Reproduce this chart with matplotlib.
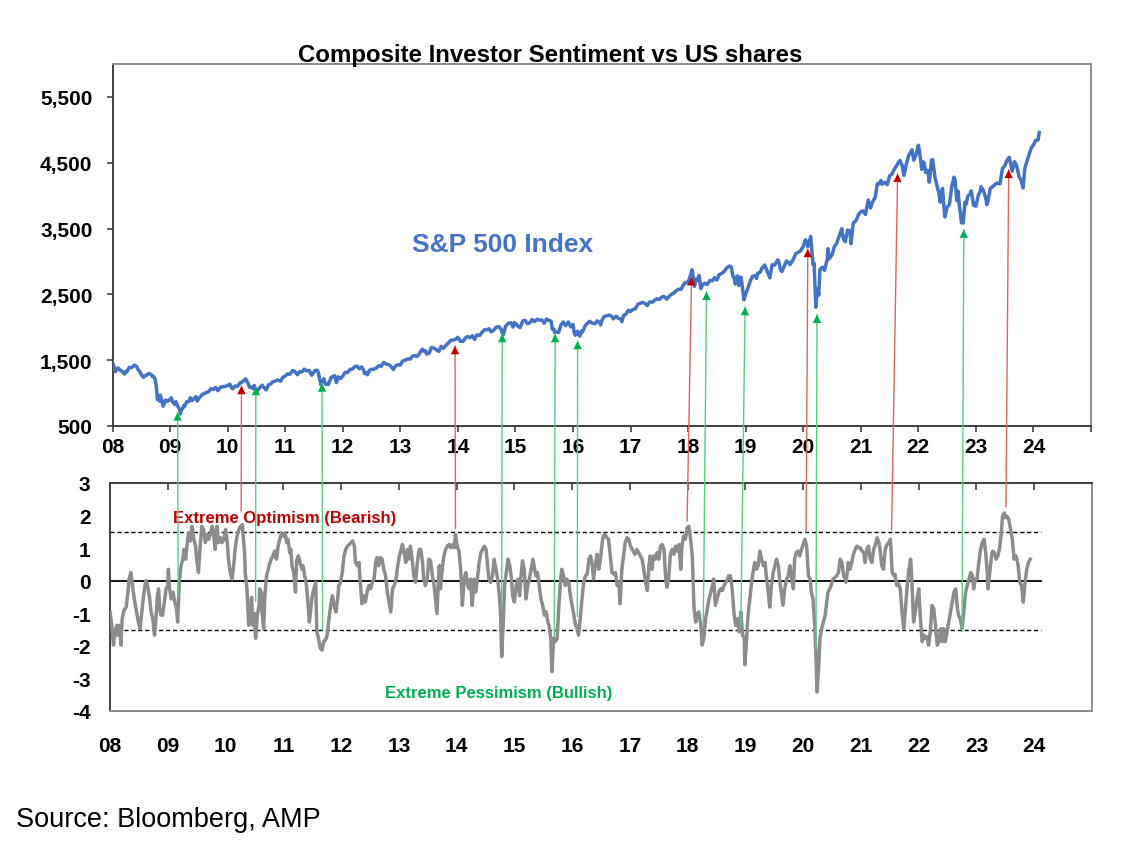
import matplotlib
matplotlib.use("Agg")
import matplotlib.pyplot as plt
from matplotlib import font_manager
from matplotlib.patches import ConnectionPatch, ArrowStyle

plt.rcParams['font.family'] = ['Liberation Sans', 'DejaVu Sans']
plt.rcParams['axes.unicode_minus'] = False

# ---- data ----
# S&P 500 (weekly-ish closes, decimal year, index level)
spx_pts = [
    (2008.00, 1468), (2008.02, 1411), (2008.05, 1325), (2008.08, 1378), (2008.10, 1380),
    (2008.13, 1349), (2008.17, 1330), (2008.21, 1288), (2008.23, 1330), (2008.25, 1323),
    (2008.29, 1390), (2008.33, 1386), (2008.38, 1426), (2008.42, 1400), (2008.44, 1360),
    (2008.48, 1318), (2008.50, 1280), (2008.54, 1239), (2008.56, 1260), (2008.58, 1267),
    (2008.63, 1298), (2008.67, 1283), (2008.69, 1252), (2008.71, 1255), (2008.74, 1213),
    (2008.76, 1099), (2008.78, 899), (2008.80, 940), (2008.82, 877), (2008.83, 969),
    (2008.86, 873), (2008.88, 800), (2008.92, 896), (2008.94, 876), (2008.96, 880),
    (2009.00, 903), (2009.02, 930), (2009.04, 870), (2009.06, 850), (2009.08, 826),
    (2009.10, 869), (2009.12, 827), (2009.15, 770), (2009.17, 735), (2009.18, 683),
    (2009.20, 756), (2009.22, 768), (2009.24, 816), (2009.25, 798), (2009.29, 870),
    (2009.33, 873), (2009.35, 930), (2009.38, 887), (2009.42, 919), (2009.45, 946),
    (2009.47, 879), (2009.50, 919), (2009.56, 979), (2009.58, 987), (2009.62, 1005),
    (2009.67, 1021), (2009.71, 1068), (2009.75, 1057), (2009.79, 1087), (2009.83, 1036),
    (2009.88, 1093), (2009.92, 1096), (2009.96, 1102), (2010.00, 1115), (2010.04, 1136),
    (2010.06, 1092), (2010.09, 1066), (2010.13, 1109), (2010.17, 1104), (2010.21, 1150),
    (2010.25, 1169), (2010.29, 1192), (2010.31, 1217), (2010.33, 1187), (2010.36, 1135),
    (2010.38, 1088), (2010.42, 1089), (2010.44, 1065), (2010.46, 1117), (2010.50, 1031),
    (2010.51, 1022), (2010.54, 1064), (2010.58, 1102), (2010.60, 1121), (2010.65, 1064),
    (2010.67, 1049), (2010.71, 1125), (2010.75, 1141), (2010.79, 1176), (2010.83, 1183),
    (2010.87, 1199), (2010.90, 1189), (2010.92, 1181), (2010.96, 1243), (2011.00, 1258),
    (2011.04, 1293), (2011.08, 1286), (2011.13, 1343), (2011.17, 1327), (2011.19, 1304),
    (2011.21, 1279), (2011.25, 1326), (2011.29, 1319), (2011.33, 1364), (2011.37, 1338),
    (2011.42, 1345), (2011.44, 1300), (2011.46, 1271), (2011.50, 1321), (2011.52, 1344),
    (2011.56, 1345), (2011.58, 1292), (2011.60, 1199), (2011.61, 1179), (2011.62, 1124),
    (2011.67, 1219), (2011.70, 1136), (2011.75, 1131), (2011.76, 1155), (2011.80, 1238),
    (2011.83, 1253), (2011.86, 1263), (2011.89, 1159), (2011.92, 1247), (2011.96, 1220),
    (2012.00, 1258), (2012.04, 1315), (2012.08, 1312), (2012.13, 1361), (2012.17, 1366),
    (2012.21, 1404), (2012.25, 1408), (2012.29, 1370), (2012.33, 1398), (2012.36, 1353),
    (2012.38, 1295), (2012.42, 1310), (2012.43, 1278), (2012.46, 1342), (2012.50, 1362),
    (2012.54, 1362), (2012.58, 1379), (2012.63, 1418), (2012.67, 1407), (2012.71, 1466),
    (2012.75, 1441), (2012.79, 1433), (2012.83, 1412), (2012.88, 1360), (2012.92, 1416),
    (2012.96, 1430), (2013.00, 1426), (2013.04, 1486), (2013.08, 1498), (2013.13, 1519),
    (2013.17, 1515), (2013.21, 1560), (2013.25, 1569), (2013.29, 1555), (2013.33, 1598),
    (2013.38, 1667), (2013.42, 1631), (2013.44, 1643), (2013.46, 1593), (2013.50, 1606),
    (2013.54, 1692), (2013.58, 1686), (2013.63, 1655), (2013.67, 1633), (2013.71, 1710),
    (2013.75, 1682), (2013.77, 1703), (2013.83, 1757), (2013.88, 1804), (2013.92, 1806),
    (2013.96, 1818), (2014.00, 1848), (2014.04, 1790), (2014.08, 1783), (2014.10, 1797),
    (2014.13, 1838), (2014.17, 1859), (2014.21, 1841), (2014.25, 1872), (2014.29, 1815),
    (2014.33, 1884), (2014.38, 1877), (2014.42, 1924), (2014.46, 1962), (2014.50, 1960),
    (2014.54, 1978), (2014.58, 1931), (2014.62, 1955), (2014.67, 2003), (2014.71, 2011),
    (2014.75, 1972), (2014.77, 1906), (2014.79, 1887), (2014.83, 2018), (2014.88, 2063),
    (2014.92, 2068), (2014.96, 2003), (2014.98, 2071), (2015.00, 2059), (2015.04, 2019),
    (2015.08, 1995), (2015.13, 2097), (2015.17, 2105), (2015.21, 2053), (2015.25, 2068),
    (2015.29, 2117), (2015.33, 2086), (2015.38, 2123), (2015.42, 2107), (2015.46, 2110),
    (2015.50, 2063), (2015.54, 2127), (2015.58, 2104), (2015.62, 2092), (2015.64, 1971),
    (2015.67, 1972), (2015.68, 1921), (2015.70, 1931), (2015.75, 1920), (2015.79, 2033),
    (2015.83, 2079), (2015.87, 2023), (2015.92, 2080), (2015.96, 2005), (2016.00, 2044),
    (2016.02, 1922), (2016.04, 1880), (2016.08, 1940), (2016.10, 1880), (2016.12, 1865),
    (2016.15, 1948), (2016.17, 1932), (2016.21, 2022), (2016.25, 2060), (2016.29, 2091),
    (2016.33, 2065), (2016.38, 2052), (2016.42, 2097), (2016.46, 2071), (2016.48, 2037),
    (2016.50, 2099), (2016.54, 2162), (2016.58, 2174), (2016.63, 2184), (2016.67, 2171),
    (2016.70, 2128), (2016.75, 2168), (2016.79, 2133), (2016.83, 2126), (2016.85, 2085),
    (2016.88, 2181), (2016.92, 2199), (2016.96, 2258), (2017.00, 2239), (2017.04, 2271),
    (2017.08, 2279), (2017.13, 2351), (2017.17, 2364), (2017.21, 2378), (2017.25, 2363),
    (2017.29, 2329), (2017.33, 2384), (2017.38, 2381), (2017.42, 2412), (2017.46, 2433),
    (2017.50, 2423), (2017.54, 2459), (2017.58, 2470), (2017.63, 2426), (2017.67, 2472),
    (2017.71, 2500), (2017.75, 2519), (2017.79, 2553), (2017.83, 2575), (2017.88, 2579),
    (2017.92, 2648), (2017.96, 2683), (2018.00, 2674), (2018.04, 2786), (2018.07, 2873),
    (2018.08, 2824), (2018.11, 2620), (2018.14, 2732), (2018.17, 2714), (2018.19, 2786),
    (2018.22, 2588), (2018.25, 2641), (2018.29, 2670), (2018.33, 2648), (2018.38, 2713),
    (2018.42, 2705), (2018.46, 2754), (2018.50, 2718), (2018.54, 2801), (2018.58, 2816),
    (2018.63, 2850), (2018.67, 2902), (2018.72, 2930), (2018.75, 2914), (2018.78, 2768),
    (2018.80, 2767), (2018.82, 2658), (2018.83, 2712), (2018.86, 2781), (2018.88, 2633),
    (2018.92, 2760), (2018.94, 2633), (2018.97, 2417), (2019.00, 2507), (2019.04, 2596),
    (2019.08, 2704), (2019.12, 2775), (2019.17, 2784), (2019.19, 2743), (2019.21, 2822),
    (2019.25, 2834), (2019.29, 2907), (2019.33, 2946), (2019.37, 2860), (2019.42, 2752),
    (2019.46, 2950), (2019.50, 2942), (2019.56, 3025), (2019.58, 2980), (2019.60, 2882),
    (2019.63, 2847), (2019.67, 2926), (2019.71, 3007), (2019.75, 2977), (2019.77, 2952),
    (2019.83, 3038), (2019.87, 3120), (2019.92, 3141), (2019.96, 3168), (2020.00, 3231),
    (2020.04, 3330), (2020.08, 3226), (2020.13, 3380), (2020.17, 2954), (2020.19, 2972),
    (2020.20, 2711), (2020.22, 2305), (2020.24, 2541), (2020.25, 2585), (2020.27, 2489),
    (2020.29, 2875), (2020.33, 2912), (2020.37, 2864), (2020.42, 3044), (2020.43, 3194),
    (2020.45, 3041), (2020.50, 3100), (2020.54, 3225), (2020.58, 3271), (2020.62, 3373),
    (2020.67, 3500), (2020.68, 3427), (2020.70, 3341), (2020.73, 3298), (2020.77, 3477),
    (2020.81, 3465), (2020.83, 3270), (2020.87, 3585), (2020.92, 3622), (2020.96, 3709),
    (2021.00, 3756), (2021.04, 3768), (2021.08, 3714), (2021.13, 3934), (2021.17, 3811),
    (2021.18, 3842), (2021.21, 3913), (2021.25, 3973), (2021.29, 4185), (2021.33, 4181),
    (2021.35, 4232), (2021.37, 4173), (2021.42, 4204), (2021.46, 4166), (2021.50, 4298),
    (2021.54, 4327), (2021.58, 4395), (2021.63, 4468), (2021.67, 4523), (2021.68, 4535),
    (2021.72, 4455), (2021.75, 4308), (2021.79, 4471), (2021.83, 4605), (2021.89, 4698),
    (2021.92, 4538), (2021.96, 4620), (2022.00, 4766), (2022.02, 4677), (2022.06, 4398),
    (2022.08, 4516), (2022.10, 4500), (2022.13, 4349), (2022.15, 4385), (2022.17, 4374),
    (2022.19, 4204), (2022.23, 4543), (2022.25, 4545), (2022.29, 4271), (2022.33, 4132),
    (2022.36, 4024), (2022.38, 3901), (2022.42, 4109), (2022.44, 3901), (2022.46, 3675),
    (2022.50, 3825), (2022.54, 3863), (2022.58, 4130), (2022.62, 4280), (2022.64, 4228),
    (2022.67, 3924), (2022.69, 4067), (2022.71, 3873), (2022.75, 3586), (2022.77, 3640),
    (2022.78, 3583), (2022.81, 3901), (2022.83, 3872), (2022.86, 3993), (2022.90, 4026),
    (2022.92, 4072), (2022.96, 3852), (2023.00, 3840), (2023.04, 3999), (2023.08, 4077),
    (2023.09, 4136), (2023.13, 4079), (2023.17, 3970), (2023.19, 3862), (2023.21, 3917),
    (2023.25, 4109), (2023.29, 4134), (2023.33, 4169), (2023.37, 4192), (2023.42, 4180),
    (2023.46, 4410), (2023.50, 4450), (2023.54, 4536), (2023.58, 4582), (2023.63, 4370),
    (2023.67, 4516), (2023.71, 4450), (2023.75, 4288), (2023.79, 4224), (2023.82, 4117),
    (2023.85, 4415), (2023.90, 4559), (2023.96, 4719), (2024.00, 4770), (2024.04, 4840),
    (2024.08, 4846), (2024.10, 4958),
]

# composite sentiment (decimal year, z-score)
sent_pts = [
    (2008.00, -0.96), (2008.03, -1.37), (2008.06, -1.98), (2008.09, -1.52), (2008.12, -1.37),
    (2008.13, -1.67), (2008.16, -1.37), (2008.19, -1.98), (2008.21, -1.17), (2008.24, -0.91),
    (2008.28, -0.81), (2008.31, -0.35), (2008.33, 0.05), (2008.36, 0.25), (2008.39, -0.15),
    (2008.42, -0.56), (2008.46, -0.96), (2008.49, -1.27), (2008.52, -1.47), (2008.55, -0.96),
    (2008.58, -0.46), (2008.62, 0.00), (2008.65, -0.15), (2008.68, -0.46), (2008.71, -0.96),
    (2008.74, -1.17), (2008.77, -1.67), (2008.79, -1.27), (2008.82, -0.46), (2008.84, -0.25),
    (2008.86, -0.86), (2008.88, -1.06), (2008.91, -1.06), (2008.94, -0.66), (2008.97, -0.25),
    (2009.00, -0.15), (2009.01, 0.35), (2009.03, -0.25), (2009.06, -0.56), (2009.09, -0.35),
    (2009.12, -0.66), (2009.15, -0.86), (2009.17, -1.27), (2009.19, -0.46), (2009.20, 0.00),
    (2009.23, 0.46), (2009.26, 0.66), (2009.28, 0.96), (2009.31, 0.66), (2009.33, 1.06),
    (2009.36, 1.47), (2009.39, 1.22), (2009.42, 1.67), (2009.45, 1.27), (2009.48, 1.06),
    (2009.50, 0.66), (2009.53, 0.25), (2009.56, 1.06), (2009.59, 1.67), (2009.62, 1.57),
    (2009.65, 1.17), (2009.68, 1.42), (2009.71, 1.27), (2009.74, 1.47), (2009.77, 1.67),
    (2009.79, 1.47), (2009.82, 0.96), (2009.85, 1.67), (2009.88, 1.17), (2009.91, 1.32),
    (2009.94, 1.17), (2009.97, 1.27), (2010.00, 1.57), (2010.03, 1.17), (2010.05, 0.66),
    (2010.08, 0.25), (2010.11, 0.05), (2010.14, 0.46), (2010.17, 1.06), (2010.20, 1.37),
    (2010.23, 1.57), (2010.26, 1.67), (2010.29, 1.72), (2010.30, 1.47), (2010.33, 0.86),
    (2010.34, 0.25), (2010.37, -0.25), (2010.40, -1.37), (2010.43, -1.17), (2010.45, -0.51),
    (2010.47, -1.37), (2010.50, -1.01), (2010.52, -1.77), (2010.55, -1.06), (2010.58, -0.76),
    (2010.59, -0.25), (2010.62, -0.35), (2010.63, -0.96), (2010.66, -1.47), (2010.68, -0.46),
    (2010.71, 0.15), (2010.74, 0.35), (2010.76, 0.51), (2010.79, 0.66), (2010.82, 0.76),
    (2010.85, 0.91), (2010.88, 0.66), (2010.91, 1.06), (2010.93, 1.22), (2010.97, 1.47),
    (2011.00, 1.37), (2011.03, 1.47), (2011.06, 1.17), (2011.08, 1.27), (2011.11, 0.86),
    (2011.13, 0.96), (2011.15, 0.46), (2011.18, 0.25), (2011.21, -0.35), (2011.23, 0.61),
    (2011.26, 0.76), (2011.29, 0.56), (2011.32, 0.35), (2011.34, 0.46), (2011.37, 0.15),
    (2011.40, -0.15), (2011.43, -0.76), (2011.45, -1.27), (2011.47, -0.96), (2011.50, -0.46),
    (2011.53, -0.25), (2011.56, -0.05), (2011.58, -1.57), (2011.61, -1.77), (2011.64, -2.08),
    (2011.67, -2.13), (2011.70, -1.87), (2011.73, -1.82), (2011.76, -1.67), (2011.79, -1.17),
    (2011.82, -0.76), (2011.85, -0.46), (2011.88, -0.76), (2011.91, -0.96), (2011.94, -0.56),
    (2011.96, -0.15), (2011.99, -0.05), (2012.02, 0.25), (2012.05, 0.76), (2012.08, 0.96),
    (2012.11, 1.06), (2012.14, 1.11), (2012.20, 1.22), (2012.23, 1.06), (2012.25, 0.56),
    (2012.28, 0.46), (2012.31, 0.56), (2012.34, -0.25), (2012.36, -0.71), (2012.39, -0.46),
    (2012.42, -0.66), (2012.45, -0.35), (2012.48, -0.15), (2012.51, -0.25), (2012.54, -0.05),
    (2012.57, 0.05), (2012.60, 0.56), (2012.62, 0.71), (2012.65, 0.46), (2012.68, 0.71),
    (2012.71, 0.66), (2012.74, 0.35), (2012.77, 0.15), (2012.80, -0.35), (2012.83, -0.66),
    (2012.86, -0.96), (2012.89, -0.25), (2012.92, -0.15), (2012.95, 0.05), (2012.98, 0.46),
    (2013.01, 0.76), (2013.04, 0.96), (2013.06, 1.11), (2013.09, 0.86), (2013.12, 0.56),
    (2013.15, 0.96), (2013.17, 0.66), (2013.20, 1.06), (2013.23, 0.66), (2013.26, 0.15),
    (2013.29, -0.05), (2013.32, 0.56), (2013.35, 0.96), (2013.38, 0.96), (2013.41, 0.56),
    (2013.43, 0.05), (2013.46, -0.15), (2013.49, 0.05), (2013.52, 0.66), (2013.55, 0.61),
    (2013.58, 0.15), (2013.61, -0.15), (2013.64, -0.66), (2013.66, -1.01), (2013.68, -0.15),
    (2013.70, 0.46), (2013.72, -0.25), (2013.75, 0.35), (2013.78, 0.76), (2013.81, 0.96),
    (2013.84, 1.06), (2013.87, 1.11), (2013.90, 1.01), (2013.93, 1.11), (2013.96, 1.01),
    (2013.98, 1.42), (2014.01, 1.06), (2014.04, 0.91), (2014.07, 0.35), (2014.10, -0.76),
    (2014.13, 0.05), (2014.16, 0.25), (2014.19, -0.15), (2014.22, -0.25), (2014.24, 0.05),
    (2014.27, -0.76), (2014.30, 0.05), (2014.33, -0.35), (2014.36, 0.05), (2014.39, 0.56),
    (2014.42, 0.86), (2014.45, 0.96), (2014.48, 1.06), (2014.51, 0.96), (2014.53, 0.56),
    (2014.56, 0.05), (2014.59, -0.05), (2014.62, 0.15), (2014.65, 0.66), (2014.68, 0.35),
    (2014.71, 0.05), (2014.74, -0.46), (2014.76, -0.96), (2014.78, -2.33), (2014.81, -1.17),
    (2014.83, -0.15), (2014.86, 0.25), (2014.89, 0.66), (2014.92, 0.46), (2014.95, 0.05),
    (2014.97, -0.46), (2015.00, -0.66), (2015.03, -0.15), (2015.06, 0.05), (2015.09, -0.46),
    (2015.11, 0.05), (2015.14, 0.61), (2015.17, 0.35), (2015.20, -0.56), (2015.23, -0.15),
    (2015.26, 0.05), (2015.29, 0.35), (2015.32, 0.66), (2015.34, 0.46), (2015.37, 0.15),
    (2015.40, 0.25), (2015.43, -0.15), (2015.46, -0.56), (2015.49, -0.76), (2015.52, -1.06),
    (2015.55, -0.96), (2015.58, -1.27), (2015.60, -1.37), (2015.63, -1.77), (2015.65, -2.79),
    (2015.68, -1.77), (2015.71, -1.87), (2015.74, -1.77), (2015.77, -0.76), (2015.80, 0.05),
    (2015.82, 0.35), (2015.85, 0.15), (2015.88, -0.15), (2015.91, 0.05), (2015.94, -0.05),
    (2015.97, -0.46), (2016.00, -0.76), (2016.03, -1.06), (2016.06, -1.37), (2016.09, -1.47),
    (2016.11, -1.67), (2016.14, -1.17), (2016.17, -0.56), (2016.20, -0.05), (2016.23, 0.15),
    (2016.26, 0.20), (2016.29, 0.66), (2016.32, 0.76), (2016.35, 0.46), (2016.37, 0.05),
    (2016.40, 0.46), (2016.43, 0.81), (2016.46, 0.35), (2016.49, 0.66), (2016.52, 1.17),
    (2016.54, 1.37), (2016.57, 1.42), (2016.60, 1.32), (2016.63, 1.27), (2016.66, 0.76),
    (2016.69, 0.25), (2016.72, 0.20), (2016.75, 0.25), (2016.78, -0.15), (2016.81, -0.05),
    (2016.83, -0.71), (2016.86, 0.35), (2016.89, 0.76), (2016.92, 1.17), (2016.95, 1.32),
    (2016.98, 1.27), (2017.01, 1.06), (2017.04, 0.96), (2017.07, 0.86), (2017.09, 0.81),
    (2017.12, 0.96), (2017.15, 0.86), (2017.18, 0.76), (2017.21, 0.66), (2017.24, 0.35),
    (2017.27, -0.05), (2017.30, -0.30), (2017.33, 0.46), (2017.35, 0.76), (2017.38, 0.35),
    (2017.41, 0.76), (2017.44, 0.66), (2017.47, 0.86), (2017.50, 0.66), (2017.53, 1.06),
    (2017.56, 1.11), (2017.59, 0.96), (2017.62, 0.05), (2017.64, -0.20), (2017.67, 0.05),
    (2017.70, 0.81), (2017.73, 0.96), (2017.76, 0.81), (2017.79, 1.06), (2017.82, 0.91),
    (2017.85, 1.11), (2017.88, 0.35), (2017.90, 1.06), (2017.93, 1.37), (2017.96, 1.27),
    (2017.99, 1.62), (2018.02, 1.67), (2018.05, 1.27), (2018.08, 0.76), (2018.11, -0.86),
    (2018.14, -1.27), (2018.16, -1.06), (2018.19, -0.96), (2018.23, -1.37), (2018.25, -1.98),
    (2018.28, -1.77), (2018.31, -1.17), (2018.34, -0.86), (2018.37, -0.56), (2018.40, -0.35),
    (2018.43, -0.15), (2018.45, 0.05), (2018.48, -0.76), (2018.51, -0.56), (2018.54, -0.35),
    (2018.57, -0.25), (2018.60, -0.30), (2018.63, -0.15), (2018.66, -0.05), (2018.69, 0.05),
    (2018.71, 0.15), (2018.74, 0.15), (2018.77, -0.25), (2018.80, -0.96), (2018.83, -1.37),
    (2018.86, -1.17), (2018.89, -1.57), (2018.92, -0.96), (2018.95, -1.67), (2018.98, -1.77),
    (2018.99, -2.58), (2019.02, -1.77), (2019.04, -1.17), (2019.07, -0.66), (2019.10, -0.15),
    (2019.13, 0.25), (2019.16, 0.56), (2019.19, 0.35), (2019.22, 0.46), (2019.25, 0.91),
    (2019.28, 0.66), (2019.31, 0.46), (2019.34, 0.56), (2019.36, 0.15), (2019.39, -0.25),
    (2019.42, -0.81), (2019.45, -0.15), (2019.48, 0.25), (2019.51, 0.46), (2019.54, 0.66),
    (2019.57, 0.46), (2019.59, 0.05), (2019.62, -0.35), (2019.65, -0.76), (2019.68, -0.25),
    (2019.71, 0.05), (2019.74, 0.15), (2019.77, 0.46), (2019.80, 0.05), (2019.83, -0.25),
    (2019.85, 0.66), (2019.88, 0.86), (2019.91, 0.91), (2019.94, 0.76), (2019.97, 0.96),
    (2020.00, 1.11), (2020.03, 1.27), (2020.06, 1.06), (2020.09, 0.15), (2020.12, 0.05),
    (2020.14, -0.35), (2020.17, -0.56), (2020.20, -1.37), (2020.22, -2.28), (2020.24, -3.42),
    (2020.27, -2.58), (2020.29, -1.77), (2020.32, -1.47), (2020.35, -1.27), (2020.38, -1.06),
    (2020.40, -0.76), (2020.43, -0.35), (2020.46, -0.25), (2020.49, -0.10), (2020.52, 0.05),
    (2020.55, 0.10), (2020.58, 0.15), (2020.61, 0.25), (2020.64, 0.66), (2020.67, 0.56),
    (2020.70, 0.15), (2020.73, 0.05), (2020.74, -0.05), (2020.77, 0.35), (2020.78, 0.56),
    (2020.81, 0.35), (2020.84, 0.56), (2020.87, 0.81), (2020.90, 0.96), (2020.93, 1.06),
    (2020.96, 1.01), (2020.99, 1.01), (2021.02, 0.91), (2021.05, 0.86), (2021.07, 0.56),
    (2021.10, 0.96), (2021.13, 1.06), (2021.16, 0.66), (2021.19, 0.56), (2021.22, 0.96),
    (2021.25, 1.11), (2021.28, 1.32), (2021.31, 1.17), (2021.33, 0.96), (2021.36, 0.46),
    (2021.39, 0.35), (2021.42, 0.96), (2021.45, 1.11), (2021.48, 1.17), (2021.51, 1.27),
    (2021.54, 0.25), (2021.57, 0.15), (2021.59, 0.20), (2021.62, -0.15), (2021.65, -0.10),
    (2021.68, -0.25), (2021.71, -0.96), (2021.74, -1.47), (2021.77, -0.86), (2021.80, -0.15),
    (2021.83, 0.35), (2021.86, 0.66), (2021.88, 0.05), (2021.91, -1.27), (2021.94, -0.96),
    (2021.97, -0.56), (2022.00, -0.25), (2022.03, -1.17), (2022.06, -1.87), (2022.09, -1.67),
    (2022.12, -1.77), (2022.14, -1.72), (2022.17, -1.98), (2022.20, -1.57), (2022.23, -0.76),
    (2022.26, -0.86), (2022.29, -1.37), (2022.32, -1.98), (2022.35, -1.87), (2022.38, -1.47),
    (2022.41, -1.87), (2022.43, -1.47), (2022.46, -1.87), (2022.49, -1.57), (2022.52, -1.27),
    (2022.55, -0.96), (2022.58, -0.66), (2022.61, -0.35), (2022.64, -0.25), (2022.67, -0.86),
    (2022.69, -1.06), (2022.72, -1.17), (2022.75, -1.47), (2022.78, -0.96), (2022.81, -0.35),
    (2022.84, -0.15), (2022.87, 0.05), (2022.90, 0.25), (2022.93, 0.15), (2022.95, -0.25),
    (2022.98, 0.05), (2023.01, 0.05), (2023.04, 0.56), (2023.07, 0.96), (2023.10, 1.17),
    (2023.13, 1.27), (2023.16, 0.86), (2023.19, 0.15), (2023.20, -0.25), (2023.23, 0.25),
    (2023.26, 0.76), (2023.28, 0.91), (2023.31, 0.86), (2023.34, 0.66), (2023.37, 0.76),
    (2023.40, 1.01), (2023.43, 1.47), (2023.45, 1.98), (2023.48, 2.08), (2023.50, 1.93),
    (2023.53, 1.98), (2023.56, 1.87), (2023.59, 1.57), (2023.62, 1.27), (2023.65, 0.66),
    (2023.68, 0.76), (2023.70, 0.66), (2023.72, 0.46), (2023.75, -0.05), (2023.78, -0.15),
    (2023.81, -0.66), (2023.84, -0.05), (2023.87, 0.35), (2023.90, 0.56), (2023.93, 0.66),
]

# signal arrows: (date in sentiment panel, sentiment, date in S&P panel, S&P level)
optimism_arrows = [
    (2010.27, 2.14, 2010.24, 1110),
    (2013.98, 1.60, 2013.95, 1717),
    (2017.99, 1.83, 2018.06, 2762),
    (2020.05, 1.47, 2020.08, 3192),
    (2021.53, 1.54, 2021.64, 4333),
    (2023.51, 2.26, 2023.57, 4394),
]
pessimism_arrows = [
    (2009.18, -0.48, 2009.13, 708),
    (2010.52, -0.64, 2010.49, 1095),
    (2011.68, -1.51, 2011.64, 1147),
    (2014.78, -0.90, 2014.77, 1899),
    (2015.69, -1.72, 2015.69, 1899),
    (2016.09, -1.10, 2016.08, 1793),
    (2018.27, -1.41, 2018.32, 2541),
    (2018.92, -1.41, 2018.99, 2308),
    (2020.22, -2.13, 2020.24, 2192),
    (2022.75, -1.56, 2022.79, 3485),
]

years = list(range(2008, 2026))
year_labels = ['08', '09', '10', '11', '12', '13', '14', '15', '16',
               '17', '18', '19', '20', '21', '22', '23', '24', '']
spx_ticks = [500, 1500, 2500, 3500, 4500, 5500]
spx_tick_labels = ['500', '1,500', '2,500', '3,500', '4,500', '5,500']
sent_ticks = [-4, -3, -2, -1, 0, 1, 2, 3]
sent_tick_labels = ['-4', '-3', '-2', '-1', '0', '1', '2', '3']
extreme_level = 1.5

spx_x = [p[0] for p in spx_pts]
spx_y = [p[1] for p in spx_pts]
sent_x = [p[0] for p in sent_pts]
sent_y = [p[1] for p in sent_pts]

# the original uses a narrow bold face for ticks and the two notes
installed = {f.name for f in font_manager.fontManager.ttflist}
if 'Liberation Sans Narrow' in installed:
    narrow = ['Liberation Sans Narrow', 'DejaVu Sans']
    tick_size, note_size = 18, 14.5
else:
    narrow = ['Liberation Sans', 'DejaVu Sans']
    tick_size, note_size = 15, 12
tick_kw = dict(fontsize=tick_size, fontweight='bold', family=narrow)

fig = plt.figure(figsize=(11.38, 8.54), dpi=100)
ax1 = fig.add_axes([0.0989, 0.5, 0.8598, 0.4239])
ax2 = fig.add_axes([0.0967, 0.1663, 0.8629, 0.267])

# top panel: S&P 500
ax1.plot(spx_x, spx_y, color='#4472C4', lw=2.5, zorder=3)
ax1.set_xlim(2008, 2025)
ax1.set_ylim(500, 6000)
ax1.set_xticks(years)
ax1.set_xticklabels(year_labels, **tick_kw)
ax1.set_yticks(spx_ticks)
ax1.set_yticklabels(spx_tick_labels, **tick_kw)
ax1.tick_params(axis='y', length=4.5, width=1.2, pad=10, color='#404040')
ax1.tick_params(axis='x', length=4, width=1.2, pad=4, color='#404040')
ax1.text(2013.20, 3156, 'S&P 500 Index', color='#4472C4', fontsize=19,
         fontweight='bold', va='baseline')

# bottom panel: sentiment
ax2.plot(sent_x, sent_y, color='#8C8C8C', lw=2.5, zorder=3)
ax2.plot([2008, 2024.12], [0, 0], color='black', lw=1.3, zorder=2)
for lvl in (extreme_level, -extreme_level):
    ax2.plot([2008, 2024.12], [lvl, lvl], color='black', lw=1.0,
             ls=(0, (3, 2)), zorder=2)
ax2.set_xlim(2008, 2025)
ax2.set_ylim(-4, 3)
ax2.set_xticks(years)
ax2.set_xticklabels(year_labels, **tick_kw)
ax2.set_yticks(sent_ticks)
ax2.set_yticklabels(sent_tick_labels, **tick_kw)
ax2.tick_params(axis='y', length=0, pad=14)
ax2.tick_params(axis='x', direction='in', top=True, bottom=False,
                length=5, width=1.2, pad=18, color='#404040')
ax2.text(2009.09, 1.81, 'Extreme Optimism (Bearish)', color='#C00000',
         fontsize=note_size, fontweight='bold', family=narrow,
         va='baseline', zorder=4)
ax2.text(2012.76, -3.58, 'Extreme Pessimism (Bullish)', color='#00B050',
         fontsize=note_size, fontweight='bold', family=narrow,
         va='baseline', zorder=4)

for ax, dark in ((ax1, ('left', 'bottom')), (ax2, ('left', 'top'))):
    for name, sp in ax.spines.items():
        sp.set_linewidth(1.4)
        sp.set_color('#404040' if name in dark else '#8C8C8C')

# arrows linking sentiment extremes to the index
head_style = ArrowStyle('-|>', head_length=0.6, head_width=0.3)
for arrows, line_c, head_c in ((optimism_arrows, '#E06666', '#C00000'),
                               (pessimism_arrows, '#5CCB85', '#00B050')):
    for x0, y0, x1, y1 in arrows:
        line = ConnectionPatch(xyA=(x0, y0), coordsA=ax2.transData,
                               xyB=(x1, y1), coordsB=ax1.transData,
                               color=line_c, lw=1.0, zorder=5)
        fig.add_artist(line)
        head = ConnectionPatch(xyA=(x0, y0), coordsA=ax2.transData,
                               xyB=(x1, y1), coordsB=ax1.transData,
                               arrowstyle=head_style, mutation_scale=10,
                               color=head_c, lw=0.01, zorder=6)
        fig.add_artist(head)

fig.text(0.4833, 0.9278, 'Composite Investor Sentiment vs US shares',
         ha='center', va='baseline', fontsize=17.3, fontweight='bold')
fig.text(0.014, 0.0316, 'Source: Bloomberg, AMP', ha='left', va='baseline',
         fontsize=19.5)

fig.savefig('out.png', dpi=100)
